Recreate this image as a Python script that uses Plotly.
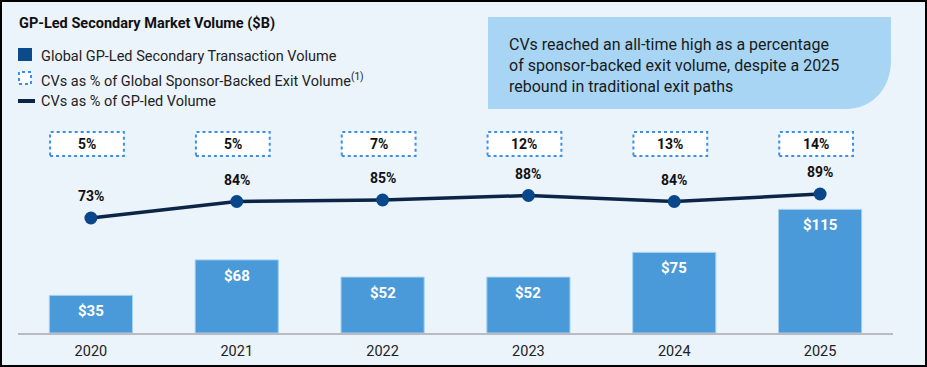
import plotly.graph_objects as go

# ---------------- data ----------------
years = ["2020", "2021", "2022", "2023", "2024", "2025"]
gp_led_volume = [35, 68, 52, 52, 75, 115]          # $B
cv_pct_gp_led = [73, 84, 85, 88, 84, 89]           # %
cv_pct_exit = [5, 5, 7, 12, 13, 14]                # %
bar_labels = ["$35", "$68", "$52", "$52", "$75", "$115"]

title_text = "GP-Led Secondary Market Volume ($B)"
legend_texts = [
    "Global GP-Led Secondary Transaction Volume",
    "CVs as % of Global Sponsor-Backed Exit Volume<sup>(1)</sup>",
    "CVs as % of GP-led Volume",
]
callout_lines = [
    "CVs reached an all-time high as a percentage",
    "of sponsor-backed exit volume, despite a 2025",
    "rebound in traditional exit paths",
]

# ---------------- geometry ----------------
FW, FH = 927, 367
L, R_PIX, T, B_PIX = 18, 893, 110, 333
W, H = R_PIX - L, B_PIX - T

def X(px):
    return (px - L) / W

def Y(py):
    return (B_PIX - py) / H

BG = "#EBF3FB"
BAR = "#4A9AD9"
NAVY = "#0B2547"
MARK = "#0A468A"
DOT = "#3A8EEE"
FONT = "Roboto"

fig = go.Figure()

fig.add_trace(go.Bar(
    x=years, y=gp_led_volume, width=0.57,
    marker=dict(color=BAR, line=dict(color="#A3D0F0", width=1)),
    hoverinfo="skip", showlegend=False,
))

fig.add_trace(go.Scatter(
    x=years, y=cv_pct_gp_led, yaxis="y2", mode="lines+markers",
    line=dict(color=NAVY, width=3.5),
    marker=dict(color=MARK, size=13),
    hoverinfo="skip", showlegend=False,
))

shapes = []
annotations = []

# background with black frame
shapes.append(dict(type="rect", xref="paper", yref="paper", layer="below",
                   x0=X(2), x1=X(925), y0=Y(365), y1=Y(2),
                   fillcolor=BG, line=dict(width=0)))

# callout box with rounded bottom-right corner
p = [(488, 17), (891, 17), (891, 60), (891, 88), (873, 109), (845, 109), (488, 109)]
path = (f"M {X(p[0][0])},{Y(p[0][1])} L {X(p[1][0])},{Y(p[1][1])} "
        f"L {X(p[2][0])},{Y(p[2][1])} C {X(p[3][0])},{Y(p[3][1])} "
        f"{X(p[4][0])},{Y(p[4][1])} {X(p[5][0])},{Y(p[5][1])} "
        f"L {X(p[6][0])},{Y(p[6][1])} Z")
shapes.append(dict(type="path", xref="paper", yref="paper", layer="below",
                   path=path, fillcolor="#A7D5F3", line=dict(width=0)))

for k, line in enumerate(callout_lines):
    annotations.append(dict(xref="paper", yref="paper", x=X(507), y=Y(44 + 21.5 * k),
                            xanchor="left", yanchor="middle", showarrow=False,
                            text=line, font=dict(family=FONT, size=16, color="#1A1A1A")))

# title
annotations.append(dict(xref="paper", yref="paper", x=X(17), y=Y(23),
                        xanchor="left", yanchor="middle", showarrow=False,
                        text=f"<b>{title_text}</b>",
                        font=dict(family=FONT, size=14.5, color="#111111")))

# legend
shapes.append(dict(type="rect", xref="paper", yref="paper", x0=X(18), x1=X(32),
                   y0=Y(61), y1=Y(48), fillcolor="#0B4A8B", line=dict(width=0)))
shapes.append(dict(type="rect", xref="paper", yref="paper", x0=X(19), x1=X(31),
                   y0=Y(84), y1=Y(72), fillcolor="white",
                   line=dict(color=DOT, width=2, dash="dot")))
shapes.append(dict(type="line", xref="paper", yref="paper", x0=X(18), x1=X(35),
                   y0=Y(101), y1=Y(101), line=dict(color=NAVY, width=4)))
for k, (txt, yc) in enumerate(zip(legend_texts, [57, 80, 102])):
    annotations.append(dict(xref="paper", yref="paper", x=X(39), y=Y(yc),
                            xanchor="left", yanchor="middle", showarrow=False,
                            text=txt, font=dict(family=FONT, size=14.5, color="#222222")))

# dotted boxes with exit-volume %
for i, v in enumerate(cv_pct_exit):
    shapes.append(dict(type="rect", xref="x", yref="paper",
                       x0=i - 0.28, x1=i + 0.226, y0=Y(156), y1=Y(132),
                       fillcolor="white", line=dict(color=DOT, width=2, dash="dot")))
    annotations.append(dict(xref="x", yref="paper", x=i - 0.027, y=Y(144),
                            xanchor="center", yanchor="middle", showarrow=False,
                            text=f"<b>{v}%</b>",
                            font=dict(family=FONT, size=14, color="#111111")))

# line labels
for i, v in enumerate(cv_pct_gp_led):
    annotations.append(dict(xref="x", yref="y2", x=i, y=v, yshift=22,
                            xanchor="center", yanchor="middle", showarrow=False,
                            text=f"<b>{v}%</b>",
                            font=dict(family=FONT, size=14, color="#111111")))

# bar labels
for i, (v, lab) in enumerate(zip(gp_led_volume, bar_labels)):
    annotations.append(dict(xref="x", yref="y", x=i, y=v, yshift=-16,
                            xanchor="center", yanchor="middle", showarrow=False,
                            text=f"<b>{lab}</b>",
                            font=dict(family=FONT, size=15, color="white")))

fig.update_layout(
    width=FW, height=FH,
    margin=dict(l=L, r=FW - R_PIX, t=T, b=FH - B_PIX, pad=0, autoexpand=False),
    paper_bgcolor="#000000", plot_bgcolor="rgba(0,0,0,0)",
    font=dict(family=FONT),
    showlegend=False, hovermode=False,
    xaxis=dict(type="category", range=[-0.5, 5.5], showline=True, automargin=False,
               linecolor="#B9BAC2", linewidth=2, showgrid=False, zeroline=False,
               ticks="", ticklabelstandoff=4,
               tickfont=dict(family=FONT, size=14.5, color="#222222")),
    yaxis=dict(range=[0, H / 1.075], visible=False, showgrid=False, zeroline=False,
               automargin=False),
    yaxis2=dict(range=[73 - (B_PIX - 218) / 1.5, 73 + (218 - T) / 1.5],
                overlaying="y", visible=False, showgrid=False, zeroline=False,
                automargin=False),
    shapes=shapes, annotations=annotations,
)

fig.write_html("out.html", config={"displayModeBar": False},
               post_script="document.body.style.margin='0';document.body.style.overflow='hidden';")
